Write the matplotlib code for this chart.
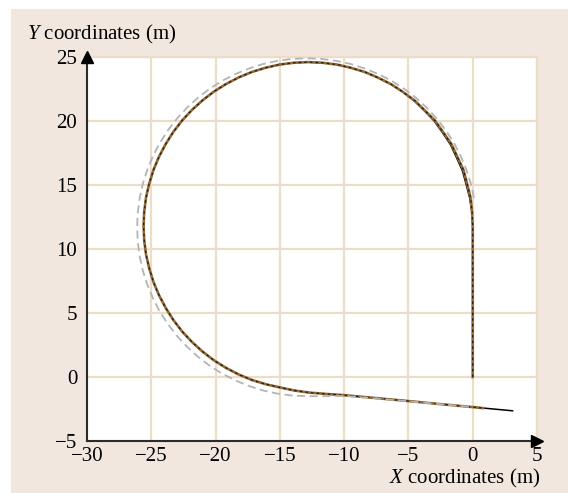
import matplotlib
matplotlib.use("Agg")
import matplotlib.pyplot as plt
from matplotlib.patches import Rectangle

plt.rcParams['font.family'] = ['Liberation Serif', 'DejaVu Serif']
plt.rcParams['mathtext.fontset'] = 'custom'
plt.rcParams['mathtext.rm'] = 'Liberation Serif'
plt.rcParams['mathtext.it'] = 'Liberation Serif:italic'

# ---- data ----
# reference path (grey dashed)
ref_x = [0.10, -0.15, -0.50, -0.94, -1.47, -2.09, -2.79, -3.57, -4.42, -5.33, -6.30, -7.32,
         -8.39, -9.48, -10.61, -11.75, -12.90, -14.05, -15.19, -16.32, -17.41, -18.48,
         -19.50, -20.47, -21.38, -22.23, -23.01, -23.71, -24.33, -24.86, -25.30, -25.65,
         -25.90, -26.05, -26.10, -26.05, -25.90, -25.65, -25.30, -24.86, -24.33, -23.71,
         -23.01, -22.23, -21.38, -20.47, -19.50, -18.48, -17.41, -16.32, -15.19, -14.05,
         -12.90, -11.50, -10.0, -7.5, -5.0, -2.5, 0.0]
ref_y = [13.99, 15.12, 16.21, 17.28, 18.30, 19.27, 20.18, 21.03, 21.81, 22.51, 23.13, 23.66,
         24.10, 24.45, 24.70, 24.85, 24.90, 24.85, 24.70, 24.45, 24.10, 23.66,
         23.13, 22.51, 21.81, 21.03, 20.18, 19.27, 18.30, 17.28, 16.21, 15.12,
         13.99, 12.85, 11.70, 10.55, 9.41, 8.28, 7.19, 6.12, 5.10, 4.13,
         3.22, 2.37, 1.59, 0.89, 0.27, -0.26, -0.70, -1.05, -1.30, -1.45,
         -1.50, -1.50, -1.48, -1.68, -1.90, -2.12, -2.35]

# trajectory A (brown, with black dashes on top)
trA_x = [0.0, 0.0, 0.0, -0.05, -0.17, -0.44, -0.72, -1.20, -1.66, -2.31, -2.93, -3.75,
         -4.52, -5.46, -6.36, -7.39, -8.40, -9.49, -10.57, -11.68, -12.80, -13.92,
         -15.02, -16.11, -17.18, -18.21, -19.20, -20.14, -21.03, -21.85, -22.61, -23.29,
         -23.88, -24.40, -24.83, -25.16, -25.41, -25.55, -25.60, -25.55, -25.41, -25.16,
         -24.83, -24.40, -23.88, -23.29, -22.61, -21.85, -21.03, -20.14, -19.20, -18.21,
         -17.18, -16.11, -15.02, -13.90, -12.70, -11.30, -10.0, -7.5, -5.0, -2.5, 0.0, 0.8]
trA_y = [0.0, 6.0, 11.8, 12.92, 14.02, 15.11, 16.18, 17.21, 18.20, 19.14, 20.03, 20.85,
         21.60, 22.29, 22.88, 23.40, 23.83, 24.16, 24.41, 24.55, 24.60, 24.55,
         24.41, 24.16, 23.83, 23.40, 22.88, 22.29, 21.60, 20.85, 20.03, 19.14,
         18.20, 17.21, 16.18, 15.11, 14.02, 12.92, 11.80, 10.68, 9.58, 8.49,
         7.42, 6.39, 5.40, 4.46, 3.57, 2.75, 2.00, 1.31, 0.72, 0.20,
         -0.23, -0.56, -0.81, -1.05, -1.22, -1.33, -1.42, -1.65, -1.88, -2.12, -2.35, -2.43]

# trajectory B (black solid)
trB_x = [0.0, 0.0, 0.0, -0.07, -0.24, -0.52, -0.81, -1.27, -1.73, -2.36, -2.99, -3.78,
         -4.56, -5.46, -6.36, -7.39, -8.40, -9.49, -10.57, -11.68, -12.80, -13.92,
         -15.02, -16.11, -17.18, -18.21, -19.20, -20.14, -21.03, -21.85, -22.61, -23.29,
         -23.88, -24.40, -24.83, -25.16, -25.41, -25.55, -25.60, -25.55, -25.41, -25.16,
         -24.83, -24.40, -23.88, -23.29, -22.61, -21.85, -21.03, -20.14, -19.20, -18.21,
         -17.18, -16.11, -15.02, -13.90, -12.70, -11.30, -10.0, -7.5, -5.0, -2.5, 0.0, 3.1]
trB_y = [0.0, 6.0, 11.8, 12.91, 14.01, 15.08, 16.14, 17.16, 18.15, 19.10, 19.99, 20.82,
         21.58, 22.29, 22.88, 23.40, 23.83, 24.16, 24.41, 24.55, 24.60, 24.55,
         24.41, 24.16, 23.83, 23.40, 22.88, 22.29, 21.60, 20.85, 20.03, 19.14,
         18.20, 17.21, 16.18, 15.11, 14.02, 12.92, 11.80, 10.68, 9.58, 8.49,
         7.42, 6.39, 5.40, 4.46, 3.57, 2.75, 2.00, 1.31, 0.72, 0.20,
         -0.23, -0.56, -0.81, -1.05, -1.22, -1.33, -1.42, -1.65, -1.88, -2.12, -2.35, -2.64]

x_ticks = [-30, -25, -20, -15, -10, -5, 0, 5]
y_ticks = [-5, 0, 5, 10, 15, 20, 25]
x_label = 'coordinates (m)'
y_label = 'coordinates (m)'

# ---- style ----
BG = '#f1e7de'
GRID = '#ecdcc8'
BROWN = '#946c38'
GREY = '#b4b4b4'
AX = '#2b2b2b'
FS = 15

fig = plt.figure(figsize=(5.68, 4.93), dpi=100, facecolor='white')
fig.patches.append(Rectangle((11 / 568, 0), 1 - 11 / 568, 1 - 9 / 493,
                             transform=fig.transFigure, facecolor=BG,
                             edgecolor='none', zorder=-10))

ax = fig.add_axes([87 / 568, 1 - 441 / 493, 450 / 568, 384 / 493])
ax.set_facecolor('white')
ax.set_xlim(-30, 5)
ax.set_ylim(-5, 25)
ax.set_xticks(x_ticks)
ax.set_yticks(y_ticks)
ax.tick_params(length=0, labelsize=FS, colors='black')
ax.tick_params(axis='x', pad=4)
ax.tick_params(axis='y', pad=7)
ax.grid(True, color=GRID, lw=1.6, zorder=0)
ax.set_axisbelow(True)
for s in ['top', 'right']:
    ax.spines[s].set_color(GRID)
    ax.spines[s].set_linewidth(1.6)
for s in ['left', 'bottom']:
    ax.spines[s].set_color(AX)
    ax.spines[s].set_linewidth(1.5)

# axis arrows
ax.plot(1, 0, marker='>', ms=9, color='black', transform=ax.transAxes, clip_on=False, zorder=5)
ax.plot(0, 1, marker='^', ms=9, color='black', transform=ax.transAxes, clip_on=False, zorder=5)

ax.plot(trB_x, trB_y, color='black', lw=1.1, zorder=2)
ax.plot(trA_x, trA_y, color=BROWN, lw=1.9, zorder=3)
ax.plot(trA_x, trA_y, color='#1a1a1a', lw=0.9, dashes=(2.0, 2.5), zorder=4)
ax.plot(ref_x, ref_y, color=GREY, lw=1.3, dashes=(4.5, 2.5), zorder=4)

fig.text(27 / 568, 1 - 34 / 493, '$Y$ ' + y_label, fontsize=FS, ha='left', va='center')
fig.text(540 / 568, 1 - 478 / 493, '$X$ ' + x_label, fontsize=FS, ha='right', va='center')

fig.savefig('out.png', dpi=100, facecolor=fig.get_facecolor())
